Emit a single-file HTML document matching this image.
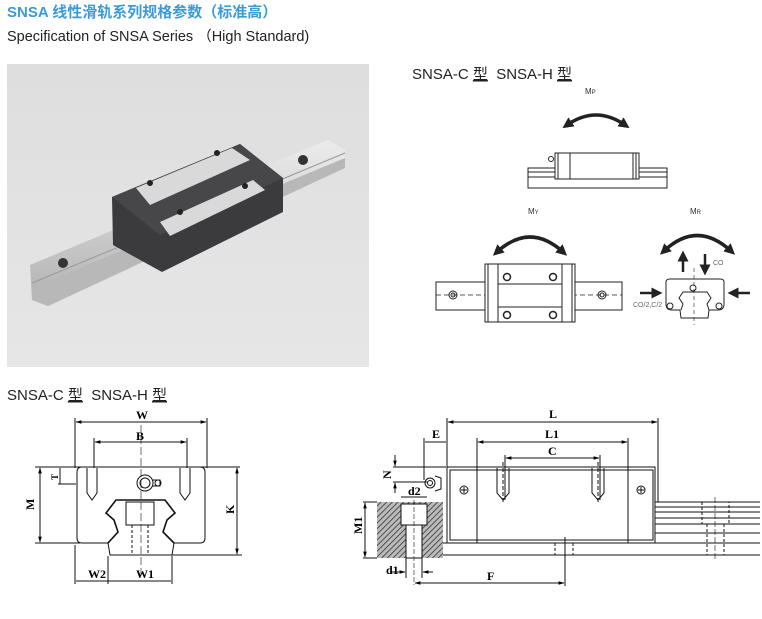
<!DOCTYPE html>
<html><head><meta charset="utf-8"><style>
html,body{margin:0;padding:0;background:#fff;width:762px;height:619px;overflow:hidden}
svg{display:block}
</style></head><body>
<svg width="762" height="619" viewBox="0 0 762 619" xmlns="http://www.w3.org/2000/svg" font-family="Liberation Sans, Noto Sans CJK SC, sans-serif">
<defs>
<pattern id="h" width="4" height="4" patternUnits="userSpaceOnUse" patternTransform="rotate(45)"><rect width="4" height="4" fill="#bbb"/><line x1="0" y1="0" x2="0" y2="4" stroke="#333" stroke-width="1.6"/></pattern>
<linearGradient id="bg" x1="0" y1="0" x2="0" y2="1"><stop offset="0" stop-color="#dedede"/><stop offset="1" stop-color="#e6e6e6"/></linearGradient>
<linearGradient id="rail" x1="0" y1="0" x2="0" y2="1"><stop offset="0" stop-color="#ececec"/><stop offset="1" stop-color="#b0b0b0"/></linearGradient>
<marker id="a" viewBox="0 0 10 10" refX="5" refY="5" markerWidth="11" markerHeight="11" markerUnits="userSpaceOnUse" orient="auto-start-reverse"><path d="M0,0 L10,5 L0,10 z" fill="#222"/></marker>
<marker id="s" viewBox="0 0 10 10" refX="9" refY="5" markerWidth="6" markerHeight="6" orient="auto-start-reverse"><path d="M0,2 L10,5 L0,8 z" fill="#000"/></marker>
</defs>

<text x="7" y="17" font-size="15" fill="#3b9bd6" font-weight="bold">SNSA 线性滑轨系列规格参数（标准高）</text>
<text x="7" y="41" font-size="14.5" fill="#222">Specification of SNSA Series （High Standard)</text>

<!-- photo -->
<rect x="7" y="64" width="362" height="303" fill="url(#bg)"/>
<polygon points="30,265 328,140 345,150 345,168 48,306 32,300" fill="url(#rail)"/>
<polygon points="32,288 345,158 345,168 48,306 32,300" fill="#b8b8b8"/>
<line x1="32" y1="283" x2="345" y2="153" stroke="#999" stroke-width="1"/>
<circle cx="63" cy="263" r="5" fill="#333"/>
<circle cx="303" cy="160" r="5" fill="#333"/>
<polygon points="112,197 240,144 283,178 283,212 162,272 113,245" fill="#3b3b3d"/>
<polygon points="112,197 240,144 283,178 160,235" fill="#474749"/>
<polygon points="136,188 232,148 250,160 150,205" fill="#d9d9d9"/>
<polygon points="160,222 253,180 265,190 170,236" fill="#d9d9d9"/>
<circle cx="150" cy="183" r="3" fill="#222"/><circle cx="217" cy="153" r="3" fill="#222"/>
<circle cx="180" cy="212" r="3" fill="#222"/><circle cx="245" cy="186" r="3" fill="#222"/>

<!-- right titles -->
<text x="412" y="79" font-size="15" fill="#222" xml:space="preserve">SNSA-C <tspan text-decoration="underline">型</tspan>  SNSA-H <tspan text-decoration="underline">型</tspan></text>
<text x="7" y="400" font-size="15" fill="#222" xml:space="preserve">SNSA-C <tspan text-decoration="underline">型</tspan>  SNSA-H <tspan text-decoration="underline">型</tspan></text>

<g fill="none" stroke="#222" stroke-width="1">
<!-- Mp -->
<path d="M567,125 Q596,105 625,125" stroke-width="3.5" marker-start="url(#a)" marker-end="url(#a)"/>
<rect x="528" y="168" width="139" height="20"/>
<line x1="528" y1="172" x2="667" y2="172"/><line x1="528" y1="177" x2="667" y2="177"/>
<rect x="555" y="153" width="84" height="26" fill="#fff"/>
<line x1="558" y1="153" x2="558" y2="179"/><line x1="570" y1="153" x2="570" y2="179"/><line x1="633" y1="153" x2="633" y2="179"/><line x1="636" y1="153" x2="636" y2="179"/>
<circle cx="551" cy="159" r="2.5"/>
<!-- My -->
<path d="M497,252 Q530,222 563,252" stroke-width="3.5" marker-start="url(#a)" marker-end="url(#a)"/>
<rect x="436" y="282" width="186" height="28"/>
<line x1="436" y1="295" x2="622" y2="295" stroke-dasharray="5,3" stroke-width="0.7"/>
<circle cx="453" cy="295" r="4"/><circle cx="453" cy="295" r="2"/>
<circle cx="602" cy="295" r="4"/><circle cx="602" cy="295" r="2"/>
<rect x="485" y="264" width="90" height="58" fill="#fff"/>
<line x1="488" y1="264" x2="488" y2="322"/><line x1="498" y1="264" x2="498" y2="322"/><line x1="562" y1="264" x2="562" y2="322"/><line x1="572" y1="264" x2="572" y2="322"/>
<line x1="498" y1="284" x2="562" y2="284"/><line x1="498" y1="307" x2="562" y2="307"/>
<circle cx="507" cy="277" r="3.5" stroke-width="1.5"/><circle cx="553" cy="277" r="3.5" stroke-width="1.5"/>
<circle cx="507" cy="315" r="3.5" stroke-width="1.5"/><circle cx="553" cy="315" r="3.5" stroke-width="1.5"/>
<!-- Mr -->
<path d="M664,251 Q697,220 731,251" stroke-width="3.5" marker-start="url(#a)" marker-end="url(#a)"/>
<line x1="683" y1="272" x2="683" y2="256" stroke-width="2.5" marker-end="url(#a)"/>
<line x1="705" y1="254" x2="705" y2="270" stroke-width="2.5" marker-end="url(#a)"/>
<line x1="640" y1="293" x2="657" y2="293" stroke-width="2.5" marker-end="url(#a)"/>
<line x1="750" y1="293" x2="733" y2="293" stroke-width="2.5" marker-end="url(#a)"/>
<path d="M666,282 L666,304 Q666,310 672,310 L680,310 L681,318 L708,318 L709,310 L718,310 Q724,310 724,304 L724,282 Q724,279 720,279 L670,279 Q666,279 666,282 Z"/>
<path d="M681,310 L683,304 L679,298 L683,292 L707,292 L711,298 L707,304 L709,310"/>
<circle cx="693" cy="288" r="3"/>
<circle cx="670" cy="306" r="3"/><circle cx="719" cy="306" r="3"/>
<line x1="694" y1="268" x2="694" y2="325" stroke-dasharray="4,3" stroke-width="0.6"/>
</g>
<text x="585" y="94" font-size="8" fill="#333">M<tspan font-size="6">P</tspan></text>
<text x="528" y="214" font-size="8" fill="#333">M<tspan font-size="6">Y</tspan></text>
<text x="690" y="214" font-size="8" fill="#333">M<tspan font-size="6">R</tspan></text>
<text x="713" y="265" font-size="7" fill="#666">CO</text>
<text x="633" y="307" font-size="7" fill="#666">CO/2,C/2</text>

<!-- Left section drawing -->
<g fill="none" stroke="#111" stroke-width="1">
<line x1="75" y1="418" x2="75" y2="468"/><line x1="207" y1="418" x2="207" y2="468"/>
<line x1="76" y1="422" x2="206" y2="422" marker-start="url(#s)" marker-end="url(#s)"/>
<line x1="94" y1="438" x2="94" y2="468"/><line x1="187" y1="438" x2="187" y2="468"/>
<line x1="95" y1="442" x2="186" y2="442" marker-start="url(#s)" marker-end="url(#s)"/>
<line x1="35" y1="467" x2="240" y2="467"/>
<line x1="35" y1="543" x2="80" y2="543"/>
<line x1="40" y1="468" x2="40" y2="542" marker-start="url(#s)" marker-end="url(#s)"/>
<line x1="172" y1="555" x2="242" y2="555"/>
<line x1="237" y1="468" x2="237" y2="554" marker-start="url(#s)" marker-end="url(#s)"/>
<line x1="58" y1="484" x2="76" y2="484"/><line x1="60" y1="468" x2="60" y2="484"/>
<path d="M82,467 L200,467 Q205,467 205,472 L205,538 Q205,543 200,543 L174,543 L172,555 L110,555 L108,543 L82,543 Q77,543 77,538 L77,472 Q77,467 82,467 Z"/>
<path d="M108,543 L118,532 L114,520 L106,513 L116,500 L165,500 L175,513 L167,520 L163,532 L174,543" stroke-width="1.6"/>
<rect x="126" y="502" width="28" height="23"/>
<line x1="132" y1="525" x2="132" y2="555" stroke-dasharray="3,2"/><line x1="148" y1="525" x2="148" y2="555" stroke-dasharray="3,2"/>
<path d="M87,468 L87,493 L92,500 L97,493 L97,468"/><path d="M180,468 L180,493 L185,500 L190,493 L190,468"/>
<circle cx="145" cy="483" r="8"/><circle cx="145" cy="483" r="5"/>
<path d="M153,480 L160,480 L160,486 L153,486"/><circle cx="158" cy="483" r="3"/>
<line x1="141" y1="425" x2="141" y2="575" stroke-dasharray="8,3" stroke-width="0.6"/>
<line x1="75" y1="545" x2="75" y2="584"/><line x1="108" y1="556" x2="108" y2="584"/><line x1="172" y1="556" x2="172" y2="584"/>
<line x1="76" y1="581" x2="171" y2="581"/>
</g>
<g font-family="Liberation Serif, serif" font-weight="bold" font-size="12" fill="#000">
<text x="136" y="419">W</text><text x="136" y="440">B</text>
<text x="88" y="578">W2</text><text x="136" y="578">W1</text>
<text x="52" y="480" font-size="9" transform="rotate(-90 55 477)">T</text>
<text x="26" y="510" transform="rotate(-90 30 506)">M</text>
<text x="226" y="514" transform="rotate(-90 230 510)">K</text>
</g>

<!-- Right side drawing -->
<g fill="none" stroke="#111" stroke-width="1">
<line x1="447" y1="418" x2="447" y2="502"/><line x1="658" y1="418" x2="658" y2="502"/>
<line x1="448" y1="422" x2="657" y2="422" marker-start="url(#s)" marker-end="url(#s)"/>
<line x1="424" y1="438" x2="424" y2="480"/>
<line x1="425" y1="442" x2="446" y2="442"/>
<line x1="477" y1="438" x2="477" y2="468"/><line x1="628" y1="438" x2="628" y2="468"/>
<line x1="478" y1="442" x2="627" y2="442" marker-start="url(#s)" marker-end="url(#s)"/>
<line x1="505" y1="455" x2="505" y2="500"/><line x1="600" y1="455" x2="600" y2="500"/>
<line x1="506" y1="458" x2="599" y2="458" marker-start="url(#s)" marker-end="url(#s)"/>
<rect x="447" y="467" width="208" height="76"/>
<rect x="450" y="470" width="203" height="70"/>
<line x1="477" y1="467" x2="477" y2="543"/><line x1="628" y1="467" x2="628" y2="543"/>
<line x1="440" y1="543" x2="760" y2="543"/><line x1="440" y1="555" x2="760" y2="555"/>
<line x1="655" y1="502" x2="760" y2="502"/><line x1="655" y1="507" x2="760" y2="507"/><line x1="655" y1="512" x2="760" y2="512"/><line x1="655" y1="518" x2="760" y2="518"/><line x1="655" y1="524" x2="760" y2="524"/><line x1="655" y1="533" x2="760" y2="533"/>
<path d="M497,468 L497,493 L503,500 L509,493 L509,468"/><path d="M592,468 L592,493 L598,500 L604,493 L604,468"/>
<line x1="503" y1="462" x2="503" y2="503" stroke-dasharray="4,2"/><line x1="598" y1="462" x2="598" y2="503" stroke-dasharray="4,2"/>
<circle cx="464" cy="490" r="4"/><line x1="461" y1="490" x2="467" y2="490"/><line x1="464" y1="487" x2="464" y2="493"/>
<circle cx="641" cy="490" r="4"/><line x1="638" y1="490" x2="644" y2="490"/><line x1="641" y1="487" x2="641" y2="493"/>
<circle cx="430" cy="483" r="5"/><circle cx="430" cy="483" r="2.5"/><path d="M435,476 L441,478 L441,489 L435,491"/>
<rect x="702" y="502" width="27" height="22" stroke-dasharray="3,2"/>
<line x1="707" y1="524" x2="707" y2="555" stroke-dasharray="3,2"/><line x1="724" y1="524" x2="724" y2="555" stroke-dasharray="3,2"/>
<line x1="715" y1="497" x2="715" y2="560" stroke-dasharray="6,2" stroke-width="0.6"/>
<line x1="555" y1="543" x2="555" y2="555" stroke-dasharray="3,2"/><line x1="573" y1="543" x2="573" y2="555" stroke-dasharray="3,2"/>
<line x1="565" y1="537" x2="565" y2="586"/>
<line x1="393" y1="467" x2="446" y2="467"/><line x1="393" y1="482" x2="428" y2="482"/>
<line x1="395" y1="455" x2="395" y2="466" marker-end="url(#s)"/><line x1="395" y1="493" x2="395" y2="483" marker-end="url(#s)"/>
</g>
<rect x="377" y="502" width="66" height="56" fill="url(#h)"/>
<g fill="none" stroke="#111" stroke-width="1">
<rect x="401" y="504" width="26" height="21" fill="#fff"/>
<rect x="406" y="525" width="16" height="33" fill="#fff"/>
<line x1="414" y1="500" x2="414" y2="585" stroke-dasharray="5,2" stroke-width="0.6"/>
<line x1="401" y1="497" x2="427" y2="497"/>
<line x1="363" y1="502" x2="377" y2="502"/><line x1="363" y1="558" x2="377" y2="558"/>
<line x1="365" y1="503" x2="365" y2="557" marker-start="url(#s)" marker-end="url(#s)"/>
<line x1="390" y1="572" x2="405" y2="572" marker-end="url(#s)"/><line x1="433" y1="572" x2="423" y2="572" marker-end="url(#s)"/>
<line x1="406" y1="558" x2="406" y2="578"/><line x1="422" y1="558" x2="422" y2="578"/>
<line x1="415" y1="583" x2="564" y2="583" marker-start="url(#s)" marker-end="url(#s)"/>
</g>
<g font-family="Liberation Serif, serif" font-weight="bold" font-size="12" fill="#000">
<text x="549" y="418">L</text><text x="432" y="438">E</text><text x="545" y="438">L1</text><text x="548" y="455">C</text>
<text x="408" y="495">d2</text><text x="386" y="574">d1</text><text x="487" y="580">F</text>
<text x="383" y="477" transform="rotate(-90 388 474)">N</text>
<text x="352" y="532" transform="rotate(-90 358 528)">M1</text>
</g>
</svg>
</body></html>
